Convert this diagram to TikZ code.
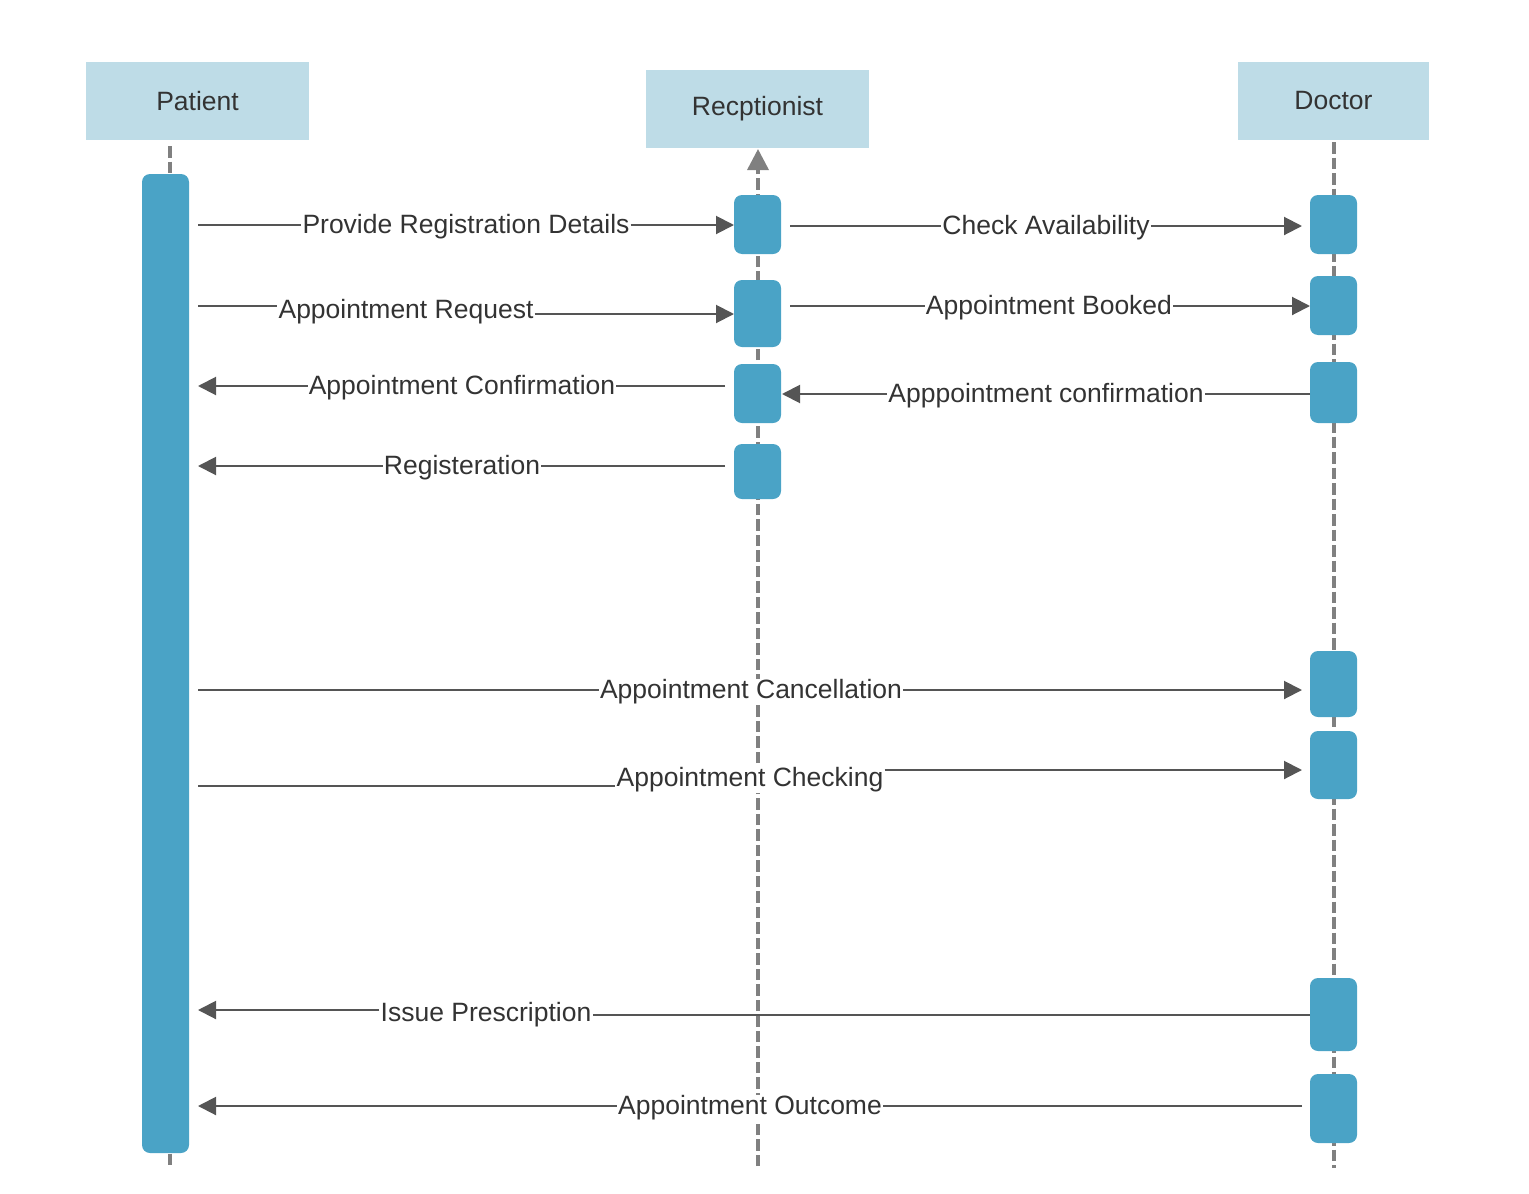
\documentclass[tikz,border=0pt]{standalone}
\usepackage{fontspec}
\setmainfont{Liberation Sans}
\usetikzlibrary{arrows.meta}
\definecolor{hdr}{HTML}{BEDCE7}
\definecolor{act}{HTML}{4AA3C6}
\definecolor{life}{HTML}{808080}
\definecolor{msg}{HTML}{555555}
\definecolor{txt}{HTML}{333333}
\begin{document}
\begin{tikzpicture}[x=1pt,y=-1pt,
  every node/.style={font=\fontsize{26.5}{31}\selectfont, text=txt},
  hdrbox/.style={fill=hdr, inner sep=0pt, minimum height=78pt},
  lifeline/.style={draw=life, line width=3.5pt, dash pattern=on 11.5pt off 4pt},
  actbar/.style={fill=act, rounded corners=8pt, inner sep=0pt, minimum width=47pt},
  msgline/.style={draw=msg, line width=2pt},
  msgarrow/.style={msgline, -{Triangle[length=18pt,width=18pt]}},
  lbl/.style={fill=white, inner sep=1pt, yshift=-2pt}
]
\useasboundingbox (0,0) rectangle (1529,1194);

% headers
\node[hdrbox, minimum width=223pt] (patient) at (197.5,101) {Patient};
\node[hdrbox, minimum width=223pt] (recep) at (757.5,109) {Recptionist};
\node[hdrbox, minimum width=191pt] (doctor) at (1333.5,101) {Doctor};

% lifelines
\coordinate (pl0) at (170,146); \coordinate (pl1) at (170,1168);
\coordinate (rl0) at (758,149); \coordinate (rl1) at (758,1166);
\coordinate (dl0) at (1334,142); \coordinate (dl1) at (1334,1168);
\draw[lifeline] (pl0) -- (pl1);
\draw[lifeline, -{Triangle[length=21pt,width=21pt]}] (rl1) -- (rl0);
\draw[lifeline] (dl0) -- (dl1);

% activation bars
\node[actbar, minimum height=979pt] (pbar) at (165.5,663.5) {};
\node[actbar, minimum height=59pt] (r1) at (757.5,224.5) {};
\node[actbar, minimum height=67pt] (r2) at (757.5,313.5) {};
\node[actbar, minimum height=59pt] (r3) at (757.5,393.5) {};
\node[actbar, minimum height=55pt] (r4) at (757.5,471.5) {};
\node[actbar, minimum height=59pt] (d1) at (1333.5,224.5) {};
\node[actbar, minimum height=59pt] (d2) at (1333.5,305.5) {};
\node[actbar, minimum height=61pt] (d3) at (1333.5,392.5) {};
\node[actbar, minimum height=66pt] (d4) at (1333.5,684) {};
\node[actbar, minimum height=68pt] (d5) at (1333.5,765) {};
\node[actbar, minimum height=73pt] (d6) at (1333.5,1014.5) {};
\node[actbar, minimum height=69pt] (d7) at (1333.5,1108.5) {};

% 1 Provide Registration Details
\coordinate (m1a) at (198,225); \coordinate (m1b) at (734,225);
\node[lbl] (l1) at (466,225) {Provide Registration Details};
\draw[msgline] (m1a) -- (l1.west |- m1a);
\draw[msgarrow] (l1.east |- m1b) -- (m1b);

% 2 Appointment Request
\coordinate (m2a) at (198,306); \coordinate (m2b) at (734,314);
\node[lbl] (l2) at (406,310) {Appointment Request};
\draw[msgline] (m2a) -- (l2.west |- m2a);
\draw[msgarrow] (l2.east |- m2b) -- (m2b);

% 3 Appointment Confirmation
\coordinate (m3a) at (725,386); \coordinate (m3b) at (198,386);
\node[lbl] (l3) at (462,386) {Appointment Confirmation};
\draw[msgline] (m3a) -- (l3.east |- m3a);
\draw[msgarrow] (l3.west |- m3b) -- (m3b);

% 4 Registeration
\coordinate (m4a) at (725,466); \coordinate (m4b) at (198,466);
\node[lbl] (l4) at (462,466) {Registeration};
\draw[msgline] (m4a) -- (l4.east |- m4a);
\draw[msgarrow] (l4.west |- m4b) -- (m4b);

% 5 Check Availability
\coordinate (m5a) at (790,226); \coordinate (m5b) at (1302,226);
\node[lbl] (l5) at (1046,226) {Check Availability};
\draw[msgline] (m5a) -- (l5.west |- m5a);
\draw[msgarrow] (l5.east |- m5b) -- (m5b);

% 6 Appointment Booked
\coordinate (m6a) at (790,306); \coordinate (m6b) at (1310,306);
\node[lbl] (l6) at (1049,306) {Appointment Booked};
\draw[msgline] (m6a) -- (l6.west |- m6a);
\draw[msgarrow] (l6.east |- m6b) -- (m6b);

% 7 Apppointment confirmation
\coordinate (m7a) at (1310,394); \coordinate (m7b) at (782,394);
\node[lbl] (l7) at (1046,394) {Apppointment confirmation};
\draw[msgline] (m7a) -- (l7.east |- m7a);
\draw[msgarrow] (l7.west |- m7b) -- (m7b);

% 8 Appointment Cancellation
\coordinate (m8a) at (198,690); \coordinate (m8b) at (1302,690);
\node[lbl] (l8) at (751,690) {Appointment Cancellation\ };
\draw[msgline] (m8a) -- (l8.west |- m8a);
\draw[msgarrow] (l8.east |- m8b) -- (m8b);

% 9 Appointment Checking
\coordinate (m9a) at (198,786); \coordinate (m9b) at (1302,770);
\node[lbl] (l9) at (750,778) {Appointment Checking};
\draw[msgline] (m9a) -- (l9.west |- m9a);
\draw[msgarrow] (l9.east |- m9b) -- (m9b);

% 10 Issue Prescription
\coordinate (m10a) at (1310,1015); \coordinate (m10b) at (198,1010);
\node[lbl] (l10) at (486,1013) {Issue Prescription};
\draw[msgline] (m10a) -- (l10.east |- m10a);
\draw[msgarrow] (l10.west |- m10b) -- (m10b);

% 11 Appointment Outcome
\coordinate (m11a) at (1302,1106); \coordinate (m11b) at (198,1106);
\node[lbl] (l11) at (750,1106) {Appointment Outcome};
\draw[msgline] (m11a) -- (l11.east |- m11a);
\draw[msgarrow] (l11.west |- m11b) -- (m11b);
\end{tikzpicture}
\end{document}
